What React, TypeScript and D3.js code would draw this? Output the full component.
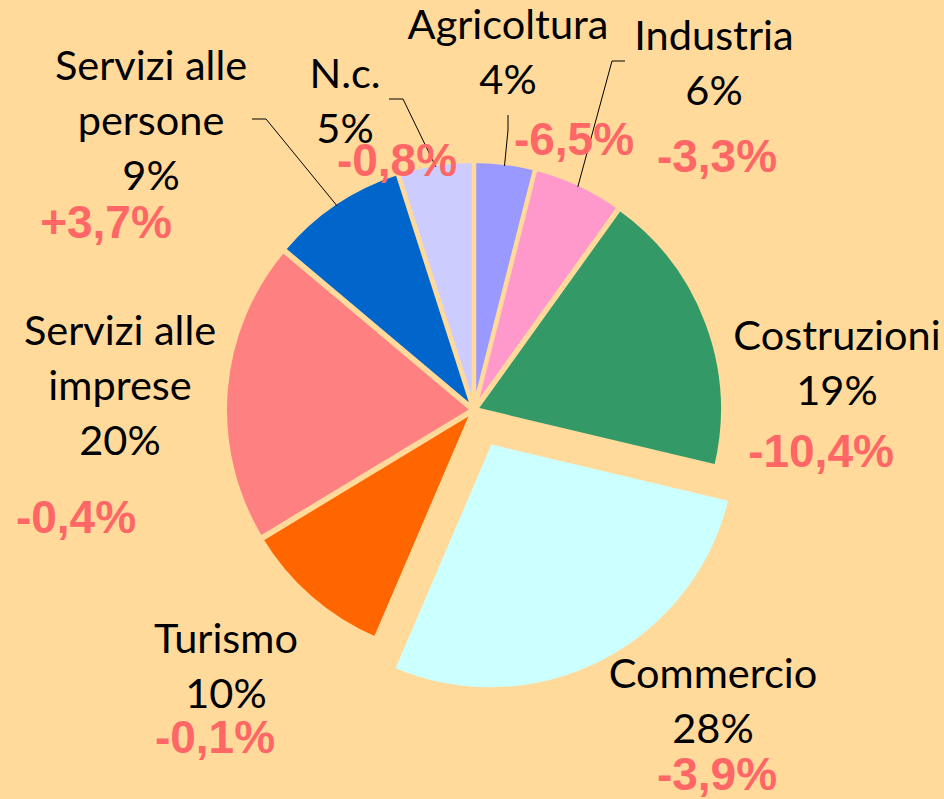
import React, { useEffect, useRef } from 'react';
import * as d3 from 'd3';

// sector shares, clockwise from 12 o'clock
const sectors = ['Agricoltura', 'Industria', 'Costruzioni', 'Commercio', 'Turismo', 'Servizi alle imprese', 'Servizi alle persone', 'N.c.'];
const shares = [4, 6, 19, 28, 10, 20, 9, 5];
const changes = ['-6,5%', '-3,3%', '-10,4%', '-3,9%', '-0,1%', '-0,4%', '+3,7%', '-0,8%'];
const colors = ['#9999FF', '#FF99CC', '#339966', '#CCFFFF', '#FF6600', '#FF8080', '#0066CC', '#CCCCFF'];

// label layout: text lines, anchor of first line, anchor of the change label, optional leader elbow
const nameLines: Record<string, string[]> = {
  'Servizi alle imprese': ['Servizi alle', 'imprese'],
  'Servizi alle persone': ['Servizi alle', 'persone'],
};
const labelPos: [number, number][] = [[508, 39], [714, 50], [837, 350], [713, 688], [226, 653], [120, 345], [151, 80], [345, 88]];
const changePos: [number, number][] = [[574, 155], [717, 172], [821, 467], [717, 790], [215, 753], [76, 533], [106, 238], [397, 176]];
const leaderStart: ([number, number][] | null)[] = [
  [[508, 115], [508, 130]],
  [[625, 61], [612, 61]],
  null, null, null, null,
  [[252, 119], [266, 119]],
  [[389, 99], [403, 99]],
];

const W = 944;
const H = 799;
const BG = '#FFDA9B';

export default function App() {
  const svgRef = useRef<SVGSVGElement>(null);

  useEffect(() => {
    document.body.style.margin = '0';
    document.body.style.overflow = 'hidden';
    if (!svgRef.current) return;
    const svg = d3.select(svgRef.current);
    svg.selectAll('*').remove();

    const cx = 474, cy = 410, r = 247;
    const pie = d3.pie<number>().sort(null).value(d => d);
    const arcs = pie(shares);
    const arc = d3.arc<d3.PieArcDatum<number>>().innerRadius(0).outerRadius(r);

    svg.append('rect').attr('width', W).attr('height', H).attr('fill', BG);

    const g = svg.append('g').attr('transform', `translate(${cx},${cy})`);
    g.selectAll('path')
      .data(arcs)
      .enter()
      .append('path')
      .attr('d', arc as any)
      .attr('fill', (_, i) => colors[i])
      .attr('stroke', BG)
      .attr('stroke-width', 4)
      .attr('transform', (d, i) => {
        const off = sectors[i] === 'Commercio' ? 36 : 2;
        const a = (d.startAngle + d.endAngle) / 2;
        return `translate(${off * Math.sin(a)},${-off * Math.cos(a)})`;
      });

    // leader lines
    arcs.forEach((d, i) => {
      const pts = leaderStart[i];
      if (!pts) return;
      const a = (d.startAngle + d.endAngle) / 2;
      const end: [number, number] = [cx + (r - 1) * Math.sin(a), cy - (r - 1) * Math.cos(a)];
      svg.append('path')
        .attr('d', d3.line()([...pts, end]))
        .attr('fill', 'none')
        .attr('stroke', '#000')
        .attr('stroke-width', 1);
    });

    // sector labels
    sectors.forEach((s, i) => {
      const lines = [...(nameLines[s] || [s]), `${shares[i]}%`];
      const t = svg.append('text')
        .attr('text-anchor', 'middle')
        .attr('font-family', 'Lato, sans-serif')
        .attr('font-size', 41.5)
        .attr('fill', '#000');
      lines.forEach((ln, j) => {
        t.append('tspan').attr('x', labelPos[i][0]).attr('y', labelPos[i][1] + j * 55).text(ln);
      });
    });

    // change labels
    svg.selectAll('.chg')
      .data(changes)
      .enter()
      .append('text')
      .attr('class', 'chg')
      .attr('x', (_, i) => changePos[i][0])
      .attr('y', (_, i) => changePos[i][1])
      .attr('text-anchor', 'middle')
      .attr('font-family', '"Liberation Sans", Arial, sans-serif')
      .attr('font-weight', 'bold')
      .attr('font-size', 46)
      .attr('fill', '#FF6666')
      .text(d => d);
  }, []);

  return <svg ref={svgRef} width={W} height={H} style={{ display: 'block' }} />;
}
